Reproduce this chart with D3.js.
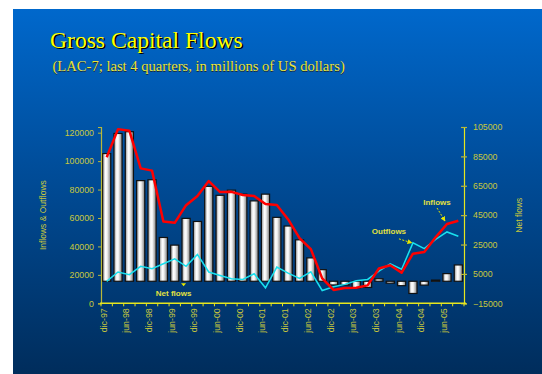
<!DOCTYPE html>
<html>
<head>
<meta charset="utf-8">
<title>Gross Capital Flows</title>
<script src="https://cdnjs.cloudflare.com/ajax/libs/d3/7.8.5/d3.min.js"></script>
<style>
  body { margin: 0; background: #ffffff; }
  text { font-family: "Liberation Sans", Arial, sans-serif; }
</style>
</head>
<body>
<svg id="chart" width="542" height="374"></svg>
<script>
// quarterly categories, dic-97 .. sep-05
var quarters = ["dic-97","mar-98","jun-98","sep-98","dic-98","mar-99","jun-99","sep-99",
  "dic-99","mar-00","jun-00","sep-00","dic-00","mar-01","jun-01","sep-01",
  "dic-01","mar-02","jun-02","sep-02","dic-02","mar-03","jun-03","sep-03",
  "dic-03","mar-04","jun-04","sep-04","dic-04","mar-05","jun-05","sep-05"];

// left axis (millions US$)
var inflows = [102700,122500,121400,94900,93300,57500,56600,69000,
  75500,86000,78200,78400,76200,75500,69800,69200,
  59000,45800,38100,17500,9400,10700,11000,12600,
  24500,26800,21500,34900,36100,46400,55800,58100];

var outflows = [15400,22000,20100,26000,24300,27800,31300,26000,
  34400,22000,19600,17300,16800,20800,10900,25500,
  21200,17500,22100,9000,11700,13300,15900,16800,
  22700,27700,24000,42500,38500,45000,50200,47200];

// right axis (bars)
var netFlows = [86900,100600,101800,68500,69100,29800,24600,42800,
  40700,64600,58500,62000,59300,54700,59300,43500,
  37600,28200,15900,7900,-2500,-2600,-4500,-4200,
  1700,-1300,-3000,-8300,-2600,800,5200,11100];

var leftTicks = [0,20000,40000,60000,80000,100000,120000];
var rightTicks = [-15000,5000,25000,45000,65000,85000,105000];

var svg = d3.select("#chart");
var defs = svg.append("defs");

// slide background
var bg = defs.append("linearGradient").attr("id", "bg")
  .attr("x1", 0).attr("y1", 0).attr("x2", 0).attr("y2", 1);
bg.append("stop").attr("offset", "0%").attr("stop-color", "#0068cc");
bg.append("stop").attr("offset", "45%").attr("stop-color", "#004c98");
bg.append("stop").attr("offset", "100%").attr("stop-color", "#002d5c");

// bar shading
var bar = defs.append("linearGradient").attr("id", "barFill")
  .attr("x1", 0).attr("y1", 0).attr("x2", 1).attr("y2", 0);
bar.append("stop").attr("offset", "0%").attr("stop-color", "#8c8c8c");
bar.append("stop").attr("offset", "35%").attr("stop-color", "#ffffff");
bar.append("stop").attr("offset", "55%").attr("stop-color", "#f2f2f2");
bar.append("stop").attr("offset", "100%").attr("stop-color", "#7c7c7c");

defs.append("marker").attr("id", "arrow")
  .attr("viewBox", "0 0 10 10").attr("refX", 9).attr("refY", 5)
  .attr("markerWidth", 5).attr("markerHeight", 5).attr("orient", "auto")
  .append("path").attr("d", "M0,0L10,5L0,10z").attr("fill", "#e8e800");

svg.append("rect").attr("x", 13).attr("y", 9)
  .attr("width", 529).attr("height", 365).attr("fill", "url(#bg)");

// titles
var serif = "'Liberation Serif', 'Times New Roman', serif";
svg.append("text").attr("x", 51.5).attr("y", 49)
  .style("font-family", serif)
  .style("font-size", "23.6px").attr("fill", "#000").text("Gross Capital Flows");
svg.append("text").attr("x", 50).attr("y", 47.5)
  .style("font-family", serif)
  .style("font-size", "23.6px").attr("fill", "#ffff00").text("Gross Capital Flows");
svg.append("text").attr("x", 53).attr("y", 71.5)
  .style("font-family", serif)
  .style("font-size", "14.6px").attr("fill", "#1a2a40").text("(LAC-7; last 4 quarters, in millions of US dollars)");
svg.append("text").attr("x", 52.5).attr("y", 71)
  .style("font-family", serif)
  .style("font-size", "14.6px").attr("fill", "#e8e43a").text("(LAC-7; last 4 quarters, in millions of US dollars)");

var plotLeft = 101, plotRight = 464, plotTop = 127, plotBottom = 303.3;

var x = d3.scaleBand().domain(quarters).range([plotLeft, plotRight]).padding(0);
var yL = d3.scaleLinear().domain([0, 124000]).range([plotBottom, plotTop]);
var yR = d3.scaleLinear().domain([-15000, 105000]).range([plotBottom, plotTop]);
var xc = function (i) { return x(quarters[i]) + x.bandwidth() / 2; };

var tickColor = "#c8c83c";

// bars (net flows, right axis)
var bw = x.bandwidth() * 0.72;
svg.append("g").selectAll("rect")
  .data(netFlows)
  .enter()
  .append("rect")
  .attr("x", (d, i) => xc(i) - bw / 2)
  .attr("y", (d) => yR(Math.max(d, 0)))
  .attr("width", bw)
  .attr("height", (d) => Math.max(Math.abs(yR(d) - yR(0)), 0.8))
  .attr("fill", "url(#barFill)")
  .attr("stroke", "#111")
  .attr("stroke-width", 1.2);

// lines (left axis)
var line = d3.line()
  .x((d, i) => xc(i))
  .y((d) => yL(d));

svg.append("path").datum(outflows)
  .attr("d", line).attr("fill", "none")
  .attr("stroke", "#19e0ee").attr("stroke-width", 1.5);

svg.append("path").datum(inflows)
  .attr("d", line).attr("fill", "none")
  .attr("stroke", "#ff0000").attr("stroke-width", 2.5)
  .attr("stroke-linejoin", "round");

// left axis
var gL = svg.append("g").attr("transform", "translate(" + plotLeft + ",0)")
  .call(d3.axisLeft(yL).tickValues(leftTicks).tickSize(3).tickPadding(4).tickFormat(d3.format("d")));
gL.select(".domain").attr("stroke", "#b8b83a").attr("stroke-width", 1.2);
gL.selectAll(".tick line").attr("stroke", "#b8b83a");
gL.selectAll("text").attr("fill", tickColor).style("font-size", "8.8px")
  .style("font-family", "'Liberation Sans', Arial, sans-serif");

// right axis
var gR = svg.append("g").attr("transform", "translate(" + plotRight + ",0)")
  .call(d3.axisRight(yR).tickValues(rightTicks).tickSize(3).tickPadding(6).tickFormat(d3.format("d")));
gR.select(".domain").attr("stroke", "#e6e61e").attr("stroke-width", 1.2);
gR.selectAll(".tick line").attr("stroke", "#b8b83a").attr("x1", -3).attr("stroke-width", 1.2);
gR.selectAll("text").attr("fill", tickColor).style("font-size", "8.8px")
  .style("font-family", "'Liberation Sans', Arial, sans-serif");

// category axis
var gX = svg.append("g").attr("transform", "translate(0," + plotBottom + ")");
gX.append("line").attr("x1", plotLeft - 1).attr("x2", plotRight + 2)
  .attr("stroke", "#e6e61e").attr("stroke-width", 1.4);
gX.selectAll(".qtick")
  .data(quarters.concat(["end"]))
  .enter()
  .append("line")
  .attr("class", "qtick")
  .attr("x1", (d, i) => plotLeft + i * x.bandwidth())
  .attr("x2", (d, i) => plotLeft + i * x.bandwidth())
  .attr("y1", 0).attr("y2", 3)
  .attr("stroke", "#e6e61e").attr("stroke-width", 1);
gX.selectAll(".qlabel")
  .data(quarters.filter((d, i) => i % 2 === 0))
  .enter()
  .append("text")
  .attr("class", "qlabel")
  .attr("transform", (d) => "translate(" + (x(d) + x.bandwidth() / 2) + ",5) rotate(-90)")
  .attr("text-anchor", "end")
  .attr("fill", tickColor)
  .style("font-size", "8.8px")
  .text((d) => d);

// axis titles
svg.append("text")
  .attr("transform", "translate(46," + ((plotTop + plotBottom) / 2) + ") rotate(-90)")
  .attr("text-anchor", "middle").attr("fill", tickColor)
  .style("font-size", "8.5px").text("Inflows & Outflows");
svg.append("text")
  .attr("transform", "translate(522," + ((plotTop + plotBottom) / 2) + ") rotate(-90)")
  .attr("text-anchor", "middle").attr("fill", tickColor)
  .style("font-size", "8.5px").text("Net flows");

// series annotations
var annColor = "#e0e040";
var inEnd = [xc(30) - 2, yL(inflows[30]) - 3];
svg.append("line")
  .attr("x1", inEnd[0] - 8).attr("y1", inEnd[1] - 13)
  .attr("x2", inEnd[0]).attr("y2", inEnd[1])
  .attr("stroke", "#e8e800").attr("stroke-width", 1)
  .attr("stroke-dasharray", "2,1.5").attr("marker-end", "url(#arrow)");
svg.append("text").attr("x", inEnd[0] - 8).attr("y", inEnd[1] - 16)
  .attr("text-anchor", "middle").attr("fill", annColor)
  .style("font-size", "8px").style("font-weight", "bold").text("Inflows");

var outEnd = [xc(27) - 1, yL(outflows[27])];
svg.append("line")
  .attr("x1", outEnd[0] - 13).attr("y1", outEnd[1] - 4)
  .attr("x2", outEnd[0]).attr("y2", outEnd[1])
  .attr("stroke", "#e8e800").attr("stroke-width", 1)
  .attr("stroke-dasharray", "2,1.5").attr("marker-end", "url(#arrow)");
svg.append("text").attr("x", outEnd[0] - 23).attr("y", outEnd[1] - 8.5)
  .attr("text-anchor", "middle").attr("fill", annColor)
  .style("font-size", "8px").style("font-weight", "bold").text("Outflows");

var netTip = [xc(7) - 2.5, yR(0) + 5];
svg.append("path")
  .attr("d", "M" + (netTip[0] - 2.5) + "," + (netTip[1] - 3) + "L" + (netTip[0] + 2.5) + "," + (netTip[1] - 3) + "L" + netTip[0] + "," + netTip[1] + "Z")
  .attr("fill", "#e8e800");
svg.append("text").attr("x", netTip[0] - 10).attr("y", netTip[1] + 10)
  .attr("text-anchor", "middle").attr("fill", annColor)
  .style("font-size", "8px").style("font-weight", "bold").text("Net flows");
</script>
</body>
</html>
